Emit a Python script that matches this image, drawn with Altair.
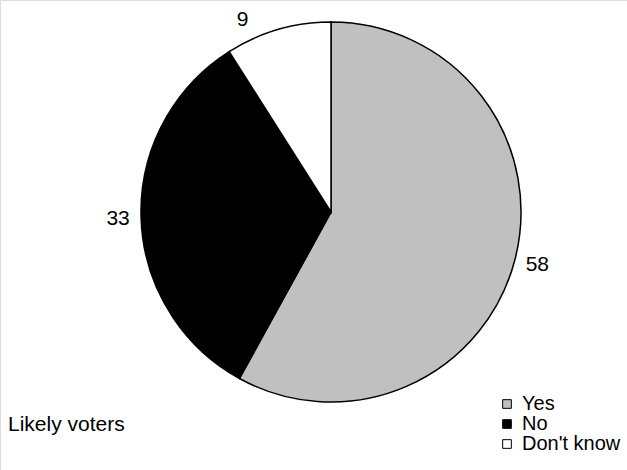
import altair as alt
import pandas as pd

categories = ["Yes", "No", "Don't know"]
values = [58, 33, 9]
order = [1, 2, 3]
colors = ["#c0c0c0", "#000000", "#ffffff"]

df = pd.DataFrame({"answer": categories, "pct": values, "order": order})

FONT = "Liberation Sans"
CX, CY, R = 331, 212, 190

pie = alt.Chart(df).mark_arc(outerRadius=R, stroke="black", strokeWidth=1.5).encode(
    theta=alt.Theta("pct:Q", stack=True),
    order=alt.Order("order:Q", sort="ascending"),
    x=alt.value(CX),
    y=alt.value(CY),
    color=alt.Color(
        "answer:N",
        scale=alt.Scale(domain=categories, range=colors),
        sort=categories,
        legend=alt.Legend(
            title=None,
            orient="none",
            legendX=497,
            legendY=394,
            symbolType="square",
            symbolSize=75,
            symbolStrokeColor="black",
            symbolStrokeWidth=1,
            labelFontSize=20,
            labelFont=FONT,
            labelColor="black",
            labelOffset=5,
            rowPadding=0,
            padding=0,
        ),
    ),
)

lab_base = (
    alt.Chart(df)
    .transform_window(cum="sum(pct)", sort=[alt.SortField("order", order="ascending")])
    .transform_calculate(mid="datum.cum - datum.pct / 2")
    .encode(
        theta=alt.Theta("mid:Q", stack=None),
        x=alt.value(CX),
        y=alt.value(CY),
        text=alt.Text("pct:Q"),
    )
)

labels_main = lab_base.mark_text(
    radius=213, font=FONT, fontSize=21, color="black"
).transform_filter(alt.datum.pct > 10)

labels_small = lab_base.mark_text(
    radius=213, font=FONT, fontSize=21, color="black", dx=-29, dy=13
).transform_filter(alt.datum.pct <= 10)

note = alt.Chart(pd.DataFrame({"t": ["Likely voters"]})).mark_text(
    align="left", baseline="middle", font=FONT, fontSize=21, color="black"
).encode(x=alt.value(8), y=alt.value(425), text="t:N")

chart = alt.layer(pie, labels_main, labels_small, note).properties(
    width=627, height=470, autosize=alt.AutoSizeParams(type="none"), padding=0
).configure_view(stroke=None).configure(background="white")

chart.save("out.html", embed_options={"renderer": "svg", "actions": False})
